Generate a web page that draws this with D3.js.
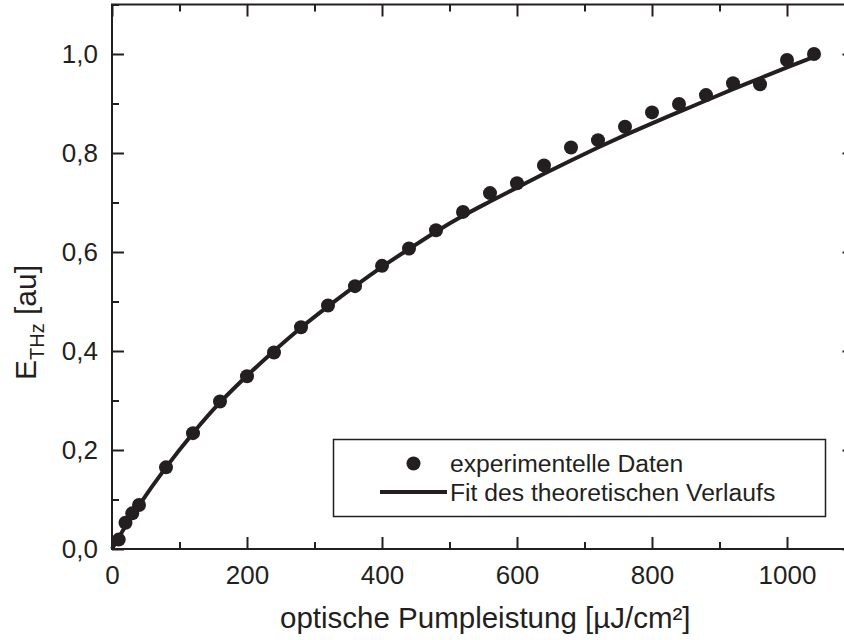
<!DOCTYPE html>
<html>
<head>
<meta charset="utf-8">
<script src="https://cdn.jsdelivr.net/npm/d3@7"></script>
<style>
  body { margin: 0; background: #fff; }
  svg { display: block; font-family: "Liberation Sans", Arial, Helvetica, sans-serif; }
</style>
</head>
<body>
<div id="chart"></div>
<script>
// measured points: pump fluence (µJ/cm²) and normalised THz field
var fluence = [10, 20, 30, 40, 80, 120, 160, 200, 240, 280, 320, 360, 400, 440, 480,
  520, 560, 600, 640, 680, 720, 760, 800, 840, 880, 920, 960, 1000, 1040];
var field = [0.019, 0.053, 0.072, 0.089, 0.165, 0.234, 0.298, 0.349, 0.397, 0.448, 0.492, 0.531, 0.572, 0.607, 0.644,
  0.681, 0.719, 0.739, 0.775, 0.811, 0.826, 0.853, 0.882, 0.899, 0.917, 0.941, 0.939, 0.988, 1.0];

// theoretical fit, sampled along the curve
var fitFluence = [0, 20, 40, 80, 120, 160, 200, 240, 280, 320, 360, 400, 440, 480, 520,
  560, 600, 640, 680, 720, 760, 800, 840, 880, 920, 960, 1000, 1040];
var fitField = [0, 0.046, 0.088, 0.165, 0.234, 0.296, 0.350, 0.400, 0.447, 0.490, 0.531, 0.570, 0.606, 0.641, 0.673,
  0.702, 0.730, 0.758, 0.785, 0.811, 0.836, 0.860, 0.883, 0.906, 0.929, 0.951, 0.973, 0.994];

var xMajor = [0, 200, 400, 600, 800, 1000];
var xMinor = [100, 300, 500, 700, 900, 1100];
var yMajor = [0, 0.2, 0.4, 0.6, 0.8, 1.0];
var yMinor = [0.1, 0.3, 0.5, 0.7, 0.9, 1.1];
var legendLabels = ["experimentelle Daten", "Fit des theoretischen Verlaufs"];

var ink = "#231f20";
var width = 844, height = 640;
var margin = { top: 4.5, right: -10.5, bottom: 91, left: 112 };

var svg = d3.select("#chart")
  .append("svg")
  .attr("width", width)
  .attr("height", height);

var x = d3.scaleLinear()
  .domain([0, 1100])
  .range([margin.left, width - margin.right]);
var y = d3.scaleLinear()
  .domain([0, 1.1])
  .range([height - margin.bottom, margin.top]);

var fmt = function (d) { return d3.format(".1f")(d).replace(".", ","); };

function styleAxis(g) {
  g.select(".domain").remove();
  g.selectAll(".tick line").attr("stroke", ink).attr("stroke-width", 2);
  g.selectAll(".tick text").attr("fill", ink).style("font-size", "26px");
}

var x0 = y(0), x1 = y(1.1);

// bottom axis, ticks pointing into the plot
svg.append("g")
  .attr("transform", "translate(0," + x0 + ")")
  .call(d3.axisBottom(x).tickValues(xMajor).tickSize(-12).tickPadding(17).tickFormat(d3.format("d")))
  .call(styleAxis);
svg.append("g")
  .attr("transform", "translate(0," + x0 + ")")
  .call(d3.axisBottom(x).tickValues(xMinor).tickSize(-7).tickFormat(""))
  .call(styleAxis);

// top axis
svg.append("g")
  .attr("transform", "translate(0," + x1 + ")")
  .call(d3.axisTop(x).tickValues(xMajor).tickSize(-12).tickFormat(""))
  .call(styleAxis);
svg.append("g")
  .attr("transform", "translate(0," + x1 + ")")
  .call(d3.axisTop(x).tickValues(xMinor).tickSize(-7).tickFormat(""))
  .call(styleAxis);

// left axis
svg.append("g")
  .attr("transform", "translate(" + x(0) + ",0)")
  .call(d3.axisLeft(y).tickValues(yMajor).tickSize(-12).tickPadding(14).tickFormat(fmt))
  .call(styleAxis);
svg.append("g")
  .attr("transform", "translate(" + x(0) + ",0)")
  .call(d3.axisLeft(y).tickValues(yMinor).tickSize(-7).tickFormat(""))
  .call(styleAxis);

// right axis
svg.append("g")
  .attr("transform", "translate(" + x(1100) + ",0)")
  .call(d3.axisRight(y).tickValues(yMajor).tickSize(-12).tickFormat(""))
  .call(styleAxis);
svg.append("g")
  .attr("transform", "translate(" + x(1100) + ",0)")
  .call(d3.axisRight(y).tickValues(yMinor).tickSize(-7).tickFormat(""))
  .call(styleAxis);

// frame
svg.append("rect")
  .attr("x", x(0))
  .attr("y", y(1.1))
  .attr("width", x(1100) - x(0))
  .attr("height", y(0) - y(1.1))
  .attr("fill", "none")
  .attr("stroke", ink)
  .attr("stroke-width", 2);

// fit curve
var fitData = fitFluence.map(function (d, i) { return [d, fitField[i]]; });
svg.append("path")
  .datum(fitData)
  .attr("d", d3.line()
    .x(function (d) { return x(d[0]); })
    .y(function (d) { return y(d[1]); })
    .curve(d3.curveMonotoneX))
  .attr("fill", "none")
  .attr("stroke", ink)
  .attr("stroke-width", 4);

// data points
svg.append("g")
  .selectAll("circle")
  .data(fluence)
  .enter()
  .append("circle")
  .attr("cx", function (d) { return x(d); })
  .attr("cy", function (d, i) { return y(field[i]); })
  .attr("r", 7)
  .attr("fill", ink);

// legend
var legend = svg.append("g");
legend.append("rect")
  .attr("x", 333.5)
  .attr("y", 439.5)
  .attr("width", 492)
  .attr("height", 77)
  .attr("fill", "#fff")
  .attr("stroke", ink)
  .attr("stroke-width", 1.5);
legend.append("circle")
  .attr("cx", 413.5)
  .attr("cy", 463.5)
  .attr("r", 7)
  .attr("fill", ink);
legend.append("line")
  .attr("x1", 380)
  .attr("x2", 447)
  .attr("y1", 492)
  .attr("y2", 492)
  .attr("stroke", ink)
  .attr("stroke-width", 4);
legend.selectAll("text")
  .data(legendLabels)
  .enter()
  .append("text")
  .attr("x", 450)
  .attr("y", function (d, i) { return 472 + i * 29; })
  .attr("fill", ink)
  .style("font-size", "24.7px")
  .text(function (d) { return d; });

// axis titles
svg.append("text")
  .attr("x", (x(0) + x(1100)) / 2 + 2)
  .attr("y", 628)
  .attr("text-anchor", "middle")
  .attr("fill", ink)
  .style("font-size", "29.5px")
  .text("optische Pumpleistung [µJ/cm²]");

var yTitle = svg.append("text")
  .attr("transform", "translate(36,380) rotate(-90)")
  .attr("fill", ink)
  .style("font-size", "30px");
yTitle.append("tspan").text("E");
yTitle.append("tspan").attr("dy", 8).style("font-size", "20px").text("THz");
yTitle.append("tspan").attr("dy", -8).text(" [au]");
</script>
</body>
</html>
